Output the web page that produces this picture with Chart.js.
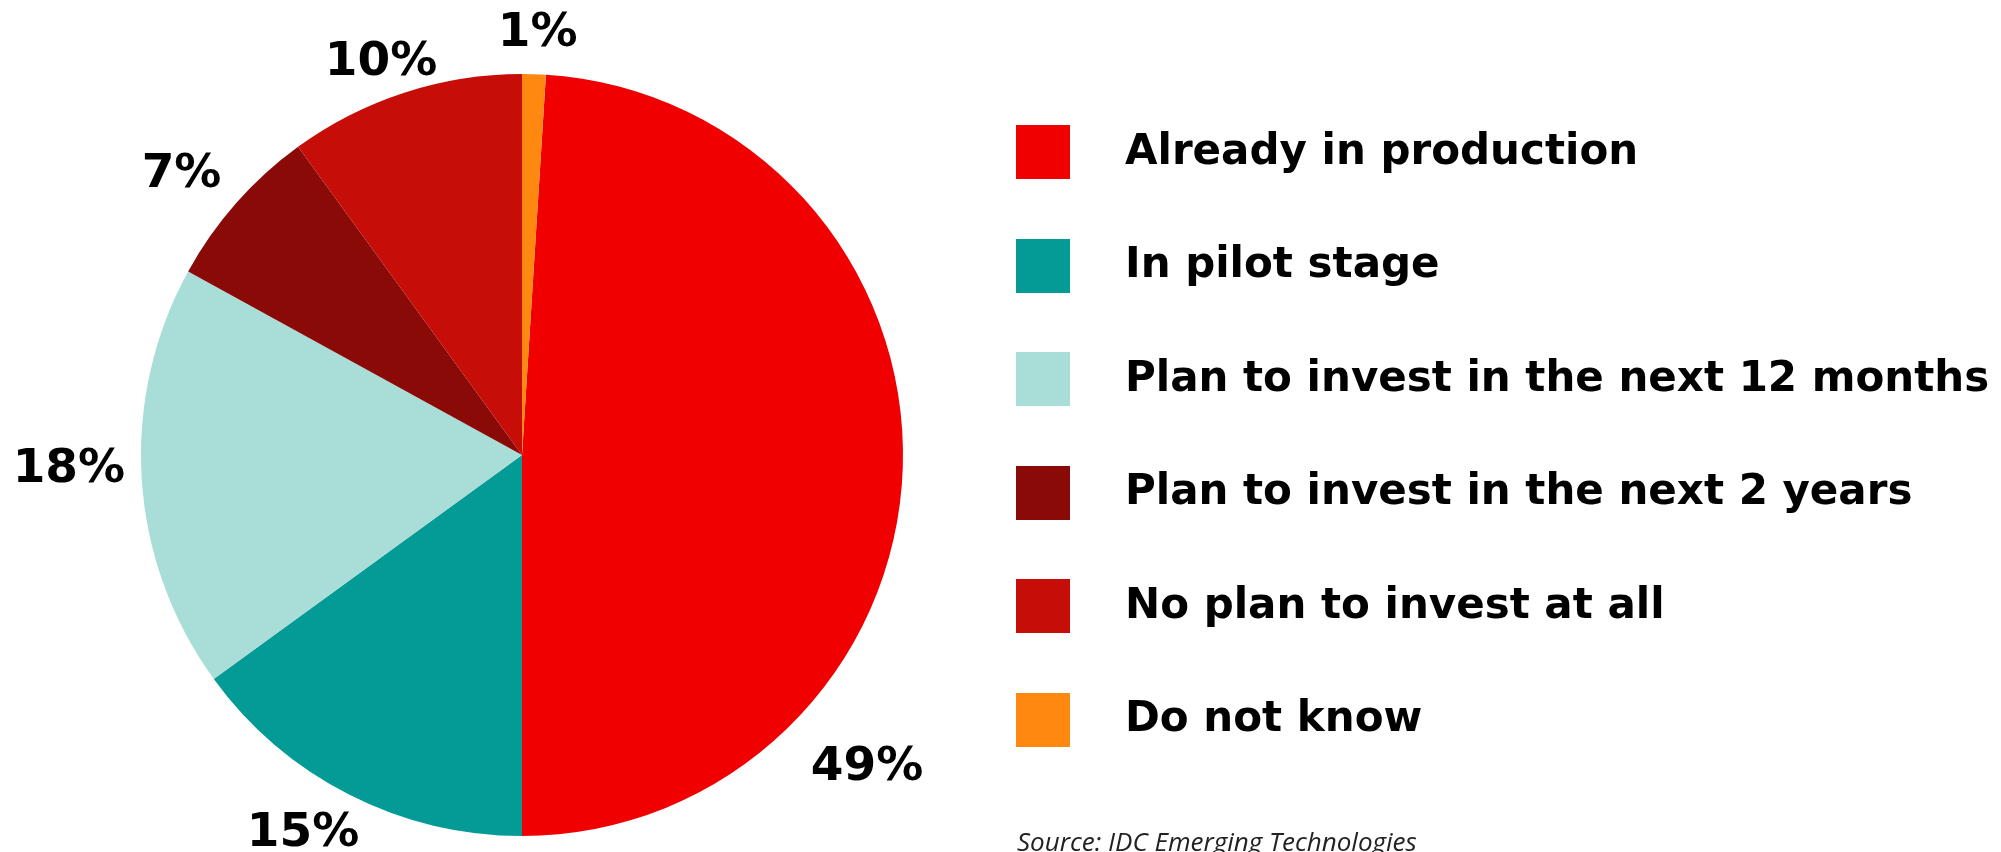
<!DOCTYPE html>
<html>
<head>
<meta charset="utf-8">
<script src="https://cdn.jsdelivr.net/npm/chart.js@4.4.1/dist/chart.umd.min.js"></script>
<style>
  html, body { margin: 0; padding: 0; background: #fff; }
  #wrap { position: relative; width: 2001px; height: 852px; overflow: hidden; }
  #pie { position: absolute; left: 0; top: 0; }
  #legend {
    position: absolute; left: 1016px; top: 125px;
    list-style: none; margin: 0; padding: 0;
    font-family: "DejaVu Sans", sans-serif; font-weight: bold; font-size: 42px; color: #000;
  }
  #legend li { height: 54px; margin-bottom: 59.6px; display: flex; align-items: center; white-space: nowrap; }
  #legend .box { width: 54px; height: 54px; margin-right: 55px; flex: none; }
  #legend .txt { position: relative; top: -3px; }
  #source {
    position: absolute; left: 1017px; top: 823px;
    font: italic 26px "Open Sans", sans-serif; color: #222;
  }
</style>
</head>
<body>
<div id="wrap">
  <canvas id="pie" width="2001" height="852"></canvas>
  <ul id="legend"></ul>
  <div id="source">Source: IDC Emerging Technologies</div>
</div>
<script>
// survey answers, in legend order
const answers = [
  'Already in production',
  'In pilot stage',
  'Plan to invest in the next 12 months',
  'Plan to invest in the next 2 years',
  'No plan to invest at all',
  'Do not know'
];
const shares = [49, 15, 18, 7, 10, 1];
const sliceColors = ['#f00000', '#049a96', '#a9ddd8', '#8a0a08', '#c60d07', '#ff8811'];

// percentage labels sitting just outside each slice;
// nudge = [extra degrees along the arc, extra distance out]
const pctLabels = {
  id: 'pctLabels',
  afterDatasetsDraw(chart, args, opts) {
    const ctx = chart.ctx;
    const meta = chart.getDatasetMeta(0);
    const values = chart.data.datasets[0].data;
    ctx.save();
    ctx.font = opts.font;
    ctx.fillStyle = opts.color;
    ctx.textAlign = 'center';
    ctx.textBaseline = 'alphabetic';
    meta.data.forEach((arc, i) => {
      const p = arc.getProps(['x', 'y', 'startAngle', 'endAngle', 'outerRadius'], true);
      const [turn, out] = opts.nudge[i] || [0, 0];
      const a = (p.startAngle + p.endAngle) / 2 + turn * Math.PI / 180;
      const text = values[i] + '%';
      const w = ctx.measureText(text).width;
      const r = p.outerRadius + opts.pad + out;
      const cx = p.x + Math.cos(a) * (r + w / 2);
      const cy = p.y + Math.sin(a) * (r + opts.capHeight / 2);
      ctx.fillText(text, cx, cy + opts.capHeight / 2);
    });
    ctx.restore();
  }
};

const chart = new Chart(document.getElementById('pie'), {
  type: 'pie',
  data: {
    labels: answers,
    datasets: [{
      data: shares,
      backgroundColor: sliceColors,
      borderWidth: 0
    }]
  },
  options: {
    responsive: false,
    animation: false,
    rotation: 3.6,
    layout: { padding: { left: 141, right: 1098, top: 74, bottom: 16 } },
    plugins: {
      legend: { display: false },
      tooltip: { enabled: false },
      pctLabels: {
        font: 'bold 47px "DejaVu Sans", sans-serif',
        color: '#000',
        pad: 16,
        capHeight: 34,
        nudge: { 0: [42.4, 28], 1: [1.2, 10], 2: [2.2, 0], 3: [0, 17], 4: [0, 3], 5: [0.2, 12] }
      }
    }
  },
  plugins: [pctLabels]
});

// legend list built from the chart's own legend items
const list = document.getElementById('legend');
chart.options.plugins.legend.labels.generateLabels(chart).forEach(item => {
  const li = document.createElement('li');
  const box = document.createElement('span');
  box.className = 'box';
  box.style.background = item.fillStyle;
  const txt = document.createElement('span');
  txt.className = 'txt';
  txt.textContent = item.text;
  li.appendChild(box);
  li.appendChild(txt);
  list.appendChild(li);
});
</script>
</body>
</html>
